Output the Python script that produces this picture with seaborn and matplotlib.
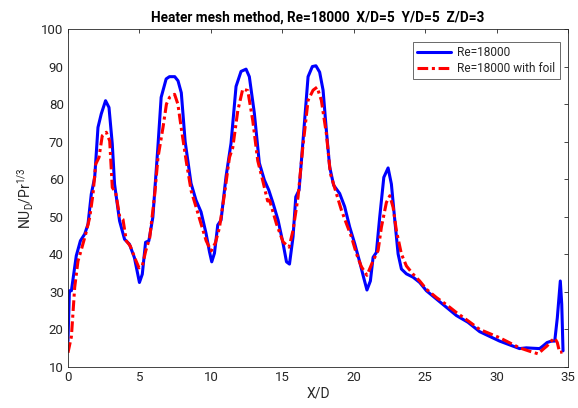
import numpy as np
import pandas as pd
import matplotlib
matplotlib.use("Agg")
import matplotlib.pyplot as plt
import seaborn as sns

# values (X/D, Nu_D/Pr^(1/3))
xd_plain = [0.0, 0.1, 0.24, 0.58, 0.87, 1.17, 1.4, 1.63, 1.87, 2.1, 2.33, 2.63, 2.87,
            3.1, 3.26, 3.61, 3.96, 4.3, 4.65, 5.0, 5.2, 5.43, 5.66, 5.94, 6.29, 6.52,
            6.87, 7.1, 7.47, 7.7, 7.93, 8.2, 8.61, 8.96, 9.31, 9.66, 9.9, 10.06, 10.25,
            10.48, 10.71, 11.06, 11.41, 11.76, 12.11, 12.46, 12.69, 13.04, 13.39, 13.74,
            14.05, 14.35, 14.7, 15.05, 15.29, 15.5, 15.75, 15.94, 16.17, 16.45, 16.8,
            17.1, 17.35, 17.61, 17.85, 18.08, 18.31, 18.59, 19.01, 19.36, 19.71, 20.06,
            20.41, 20.69, 20.92, 21.16, 21.35, 21.58, 21.81, 22.1, 22.4, 22.63, 22.87,
            23.1, 23.33, 23.68, 24.15, 24.61, 25.08, 25.78, 26.48, 27.18, 27.99, 28.81,
            30.2, 31.6, 32.07, 32.5, 33.0, 33.24, 33.52, 33.82, 34.06, 34.24, 34.45,
            34.55, 34.64]
nu_plain = [16.9, 30.3, 30.3, 39.6, 43.6, 45.4, 48.0, 56.0, 60.5, 73.8, 77.4, 80.9, 79.1,
            69.4, 58.7, 48.9, 44.0, 42.7, 39.1, 32.5, 34.7, 43.2, 43.6, 49.9, 68.5, 81.8,
            86.7, 87.3, 87.3, 86.2, 83.0, 70.0, 58.9, 54.4, 51.3, 45.6, 40.7, 38.0, 40.3,
            47.8, 49.1, 60.7, 69.6, 84.7, 88.7, 89.3, 87.3, 77.6, 64.3, 59.8, 57.1, 53.6,
            49.1, 42.9, 38.0, 37.4, 44.7, 55.3, 57.1, 70.4, 87.3, 90.0, 90.2, 88.5, 83.7,
            73.0, 63.3, 58.4, 56.2, 52.7, 47.3, 42.9, 38.0, 33.8, 30.5, 32.9, 39.2, 40.5,
            49.8, 60.5, 63.0, 58.7, 49.0, 40.1, 36.1, 34.8, 33.9, 32.5, 30.3, 28.1, 25.9,
            23.7, 21.9, 19.4, 16.9, 14.9, 15.1, 15.0, 14.9, 15.6, 16.5, 16.9, 16.9, 23.1,
            32.9, 26.7, 14.3]

xd_foil = [0.0, 0.24, 0.47, 0.7, 0.94, 1.24, 1.52, 1.75, 1.94, 2.17, 2.4, 2.68, 2.92, 3.1,
           3.34, 3.61, 3.85, 4.08, 4.36, 4.67, 4.97, 5.2, 5.44, 5.72, 6.07, 6.3, 6.65,
           6.89, 7.11, 7.46, 7.69, 7.92, 8.27, 8.62, 8.97, 9.32, 9.67, 10.02, 10.32, 10.6,
           10.95, 11.3, 11.53, 11.88, 12.23, 12.58, 12.93, 13.28, 13.63, 13.97, 14.11,
           14.58, 15.05, 15.47, 15.75, 16.1, 16.41, 16.8, 17.15, 17.43, 17.73, 18.08,
           18.36, 18.78, 19.13, 19.48, 19.83, 20.18, 20.53, 20.92, 21.35, 21.7, 21.93,
           22.28, 22.52, 22.75, 22.98, 23.33, 23.68, 24.15, 24.61, 25.08, 25.78, 26.48,
           27.18, 27.99, 28.81, 30.2, 31.6, 32.3, 32.9, 33.24, 33.52, 33.82, 34.06, 34.24,
           34.4, 34.6]
nu_foil = [13.8, 18.1, 31.2, 38.2, 41.3, 45.4, 49.8, 56.0, 64.0, 65.8, 71.6, 72.5, 70.2,
           57.8, 56.4, 50.2, 49.3, 43.6, 42.2, 39.1, 36.4, 36.9, 40.9, 44.4, 56.0, 65.8,
           73.8, 80.0, 81.8, 82.6, 80.0, 73.8, 64.9, 56.9, 52.5, 48.0, 43.6, 40.9, 43.1,
           47.1, 56.0, 65.8, 68.4, 78.2, 84.0, 83.6, 75.6, 64.9, 59.6, 54.2, 54.4, 48.2,
           43.3, 41.9, 46.4, 55.3, 67.7, 81.0, 83.7, 84.5, 81.0, 72.1, 61.5, 56.2, 51.8,
           48.2, 44.7, 40.2, 36.7, 34.4, 38.3, 41.0, 47.2, 53.8, 55.6, 52.5, 46.3, 40.1,
           36.9, 34.7, 32.9, 30.7, 28.5, 26.6, 24.5, 22.3, 20.0, 17.8, 15.1, 14.2, 13.5,
           14.7, 15.6, 16.9, 17.7, 16.5, 13.9, 14.0]

sns.set_style("white")
plt.rcParams['font.family'] = ['Roboto', 'DejaVu Sans']
plt.rcParams['mathtext.fontset'] = 'custom'
plt.rcParams['mathtext.rm'] = 'Roboto'
plt.rcParams['mathtext.it'] = 'Roboto'

fig = plt.figure(figsize=(5.78, 4.08), dpi=100)
ax = fig.add_axes([0.1176, 0.1005, 0.8654, 0.8285])

sns.lineplot(x=xd_plain, y=nu_plain, ax=ax, color='#0000ff', linewidth=2.2,
             label='Re=18000', sort=False)
sns.lineplot(x=xd_foil, y=nu_foil, ax=ax, color='#ff0000', linewidth=2.2,
             linestyle=(0, (3.5, 1.2, 1, 1.2)), label='Re=18000 with foil', sort=False)

ax.set_xlim(0, 35)
ax.set_ylim(10, 100)
ax.set_xticks(np.arange(0, 36, 5))
ax.set_yticks(np.arange(10, 101, 10))
ax.tick_params(direction='in', length=3, width=0.6, labelsize=9.5, colors='#262626',
               top=True, right=True, pad=3)
for s in ax.spines.values():
    s.set_color('#262626')
    s.set_linewidth(0.6)

ax.set_xlabel('X/D', fontsize=10, color='#262626', labelpad=2)
ax.set_ylabel(r'NU$_\mathrm{D}$/Pr$^\mathrm{1/3}$', fontsize=10, color='#262626', labelpad=4)
ax.set_title('Heater mesh method, Re=18000  X/D=5  Y/D=5  Z/D=3', fontsize=9.8,
             fontweight='bold', color='#000000', pad=5)

leg = ax.legend(loc='upper right', fontsize=8.6, frameon=True, fancybox=False,
                borderpad=0.35, handlelength=2.9, handletextpad=0.5, labelspacing=0.25,
                bbox_to_anchor=(0.995, 0.98))
leg.get_frame().set_edgecolor('#262626')
leg.get_frame().set_linewidth(0.6)

fig.savefig('out.png', dpi=100)
